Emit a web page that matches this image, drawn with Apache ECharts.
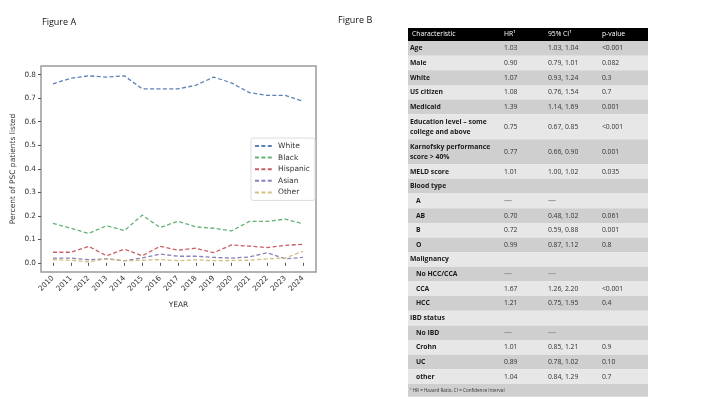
<!DOCTYPE html>
<html><head><meta charset="utf-8">
<script src="https://cdn.jsdelivr.net/npm/echarts@6/dist/echarts.min.js"></script>
<style>html,body{margin:0;background:#fff}#c{width:720px;height:405px}</style>
</head><body><div id="c"></div>
<script>
// ---------- Figure A data ----------
const years = [2010,2011,2012,2013,2014,2015,2016,2017,2018,2019,2020,2021,2022,2023,2024];
const yTicks = [0,0.1,0.2,0.3,0.4,0.5,0.6,0.7,0.8];
const seriesNames = ['White','Black','Hispanic','Asian','Other'];
const white    = [0.761,0.785,0.795,0.790,0.795,0.740,0.740,0.740,0.755,0.790,0.765,0.724,0.712,0.712,0.687];
const black    = [0.168,0.147,0.125,0.158,0.137,0.203,0.150,0.177,0.153,0.147,0.136,0.176,0.176,0.186,0.166];
const hispanic = [0.045,0.045,0.070,0.030,0.058,0.030,0.070,0.054,0.062,0.043,0.076,0.071,0.065,0.074,0.079];
const asian    = [0.020,0.020,0.013,0.017,0.009,0.021,0.037,0.028,0.028,0.023,0.020,0.025,0.043,0.017,0.023];
const other    = [0.013,0.011,0.004,0.017,0.009,0.011,0.014,0.009,0.013,0.009,0.010,0.011,0.017,0.020,0.049];
const seriesColors = ['#4C72B0','#55A868','#C44E52','#8172B3','#CCB974'];

// ---------- Figure B data ----------
const tableHeader = ['Characteristic','HR\u00b9','95% CI\u00b9','p-value'];
const characteristics = ['Age','Male','White','US citizen','Medicaid','Education level \u2013 some\ncollege and above','Karnofsky performance\nscore > 40%','MELD score','Blood type','A','AB','B','O','Malignancy','No HCC/CCA','CCA','HCC','IBD status','No IBD','Crohn','UC','other'];
const hrValues = ['1.03','0.90','1.07','1.08','1.39','0.75','0.77','1.01','','\u2014','0.70','0.72','0.99','','\u2014','1.67','1.21','','\u2014','1.01','0.89','1.04'];
const ciValues = ['1.03, 1.04','0.79, 1.01','0.93, 1.24','0.76, 1.54','1.14, 1.69','0.67, 0.85','0.66, 0.90','1.00, 1.02','','\u2014','0.48, 1.02','0.59, 0.88','0.87, 1.12','','\u2014','1.26, 2.20','0.75, 1.95','','\u2014','0.85, 1.21','0.78, 1.02','0.84, 1.29'];
const pValues = ['<0.001','0.082','0.3','0.7','0.001','<0.001','0.001','0.035','','','0.061','0.001','0.8','','','<0.001','0.4','','','0.9','0.10','0.7'];
const rowLevels = [0,0,0,0,0,0,0,0,0,1,1,1,1,0,1,1,1,0,1,1,1,1];
const footnote = '\u00b9 HR = Hazard Ratio, CI = Confidence Interval';

// build table rows (row extents in row units)
const tableRows = [];
let acc = 0;
function pushRow(kind, idx, h){ tableRows.push({kind, idx, y0: acc, y1: acc + h}); acc += h; }
pushRow('header', -1, 0.89);
characteristics.forEach((c, i) => pushRow('row', i, c.split('\n').length > 1 ? 1.71 : 1));
pushRow('foot', -1, 0.87);
const tableTotal = acc;

const colX = [0.008, 0.40, 0.583, 0.808];
const FONT = '"Open Sans", "Noto Sans", sans-serif';

const chart = echarts.init(document.getElementById('c'));
chart.setOption({
  animation: false,
  backgroundColor: '#fff',
  title: [
    {text: 'Figure A', left: 37, top: 13, textStyle: {fontSize: 9, fontWeight: 'normal', color: '#111', fontFamily: FONT}},
    {text: 'Figure B', left: 333, top: 11, textStyle: {fontSize: 9, fontWeight: 'normal', color: '#111', fontFamily: FONT}}
  ],
  legend: {
    data: seriesNames, orient: 'vertical', left: 251, top: 138,
    itemWidth: 18, itemHeight: 8, itemGap: 3.6,
    padding: [4, 5, 4, 3],
    itemStyle: {opacity: 0},
    backgroundColor: '#fff', borderColor: '#dcdcdc', borderWidth: 1, borderRadius: 2,
    textStyle: {fontSize: 7.5, color: '#333', fontFamily: 'DejaVu Sans'}
  },
  grid: [
    {left: 41, top: 66, width: 275, height: 206, show: true, borderColor: '#9a9a9a', borderWidth: 1.5, backgroundColor: 'transparent', containLabel: false},
    {left: 408, top: 28, width: 240, height: 368.7, show: false}
  ],
  xAxis: [
    {gridIndex: 0, type: 'value', min: 2009.33, max: 2024.73,
     name: 'YEAR', nameLocation: 'middle', nameGap: 29,
     nameTextStyle: {fontSize: 7.5, color: '#333', fontFamily: 'DejaVu Sans'},
     axisLine: {show: false}, splitLine: {show: false},
     axisTick: {show: true, length: 3, lineStyle: {color: '#555'}, customValues: years},
     axisLabel: {rotate: 45, fontSize: 7.3, color: '#333', margin: 5, fontFamily: 'DejaVu Sans', customValues: years, formatter: v => String(Math.round(v))}},
    {gridIndex: 1, type: 'value', min: 0, max: 1, show: false}
  ],
  yAxis: [
    {gridIndex: 0, type: 'value', min: -0.039, max: 0.837,
     name: 'Percent of PSC patients listed', nameLocation: 'middle', nameGap: 24,
     nameTextStyle: {fontSize: 7.5, color: '#333', fontFamily: 'DejaVu Sans'},
     axisLine: {show: false}, splitLine: {show: false},
     axisTick: {show: true, length: 3, lineStyle: {color: '#555'}, customValues: yTicks},
     axisLabel: {fontSize: 7.3, color: '#333', margin: 5, fontFamily: 'DejaVu Sans', customValues: yTicks, formatter: v => v.toFixed(1)}},
    {gridIndex: 1, type: 'value', min: 0, max: tableTotal, inverse: true, show: false}
  ],
  series: [white, black, hispanic, asian, other].map((vals, k) => ({
    type: 'line', name: seriesNames[k], xAxisIndex: 0, yAxisIndex: 0,
    data: years.map((y, i) => [y, vals[i]]),
    symbol: 'none', color: seriesColors[k],
    lineStyle: {type: [4, 2.4], width: 1.3, color: seriesColors[k], opacity: 0.9}
  })).concat([{
    type: 'custom', xAxisIndex: 1, yAxisIndex: 1, clip: false,
    data: tableRows.map((r, i) => [0, r.y0, r.y1, i]),
    renderItem: function (params, api) {
      const r = tableRows[params.dataIndex];
      const p0 = api.coord([0, r.y0]);
      const p1 = api.coord([1, r.y1]);
      const x0 = p0[0], w = p1[0] - p0[0], top = p0[1], h = p1[1] - p0[1];
      const cy = top + h / 2;
      const cx = f => api.coord([f, r.y0])[0];
      const children = [];
      let fill;
      if (r.kind === 'header') fill = '#000';
      else if (r.kind === 'foot') fill = '#cfcfcf';
      else fill = (r.idx % 2 === 0) ? '#cfcfcf' : '#e7e7e7';
      children.push({type: 'rect', shape: {x: x0, y: top, width: w, height: h}, style: {fill: fill}});
      const txt = (s, f, opts) => children.push({type: 'text', style: Object.assign({
        text: s, x: cx(f), y: cy, verticalAlign: 'middle', align: 'left',
        fontSize: 6.8, fontFamily: FONT, fill: '#222', lineHeight: 10}, opts || {})});
      if (r.kind === 'header') {
        tableHeader.forEach((s, j) => txt(s, j === 0 ? 0.017 : colX[j], {fill: '#fff', fontWeight: 'normal'}));
      } else if (r.kind === 'foot') {
        txt(footnote, 0.008, {fontSize: 4.6, fill: '#333'});
      } else {
        const i = r.idx;
        txt(characteristics[i], rowLevels[i] ? 0.033 : colX[0], {fontWeight: 'bold', fill: '#1a1a1a'});
        const dashStyle = {fill: '#9a9a9a', fontWeight: 'bold', fontSize: 8};
        if (hrValues[i]) txt(hrValues[i], colX[1], hrValues[i] === '\u2014' ? dashStyle : {fill: '#333'});
        if (ciValues[i]) txt(ciValues[i], colX[2], ciValues[i] === '\u2014' ? dashStyle : {fill: '#333'});
        if (pValues[i]) txt(pValues[i], colX[3], {fill: '#333'});
      }
      return {type: 'group', children: children};
    }
  }])
});
</script>
</body></html>
